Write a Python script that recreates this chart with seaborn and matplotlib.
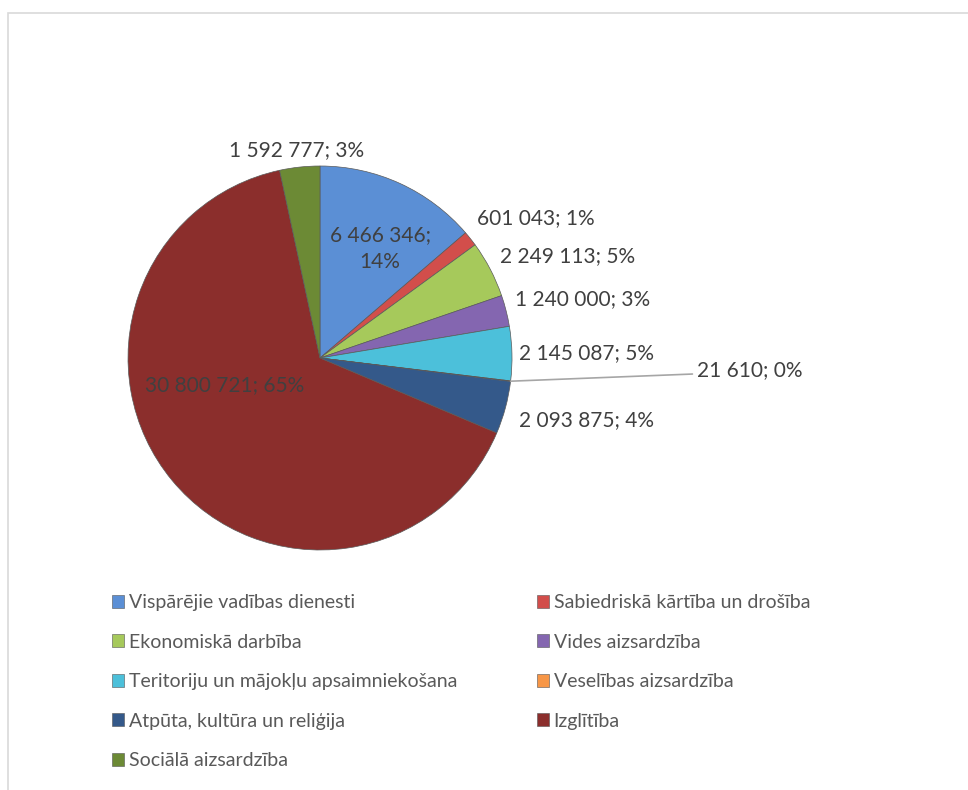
import numpy as np
import seaborn as sns
import matplotlib.pyplot as plt
from matplotlib.patches import Rectangle, Patch

categories = ["Vispārējie vadības dienesti",
              "Sabiedriskā kārtība un drošība",
              "Ekonomiskā darbība",
              "Vides aizsardzība",
              "Teritoriju un mājokļu apsaimniekošana",
              "Veselības aizsardzība",
              "Atpūta, kultūra un reliģija",
              "Izglītība",
              "Sociālā aizsardzība"]
values = [6466346, 601043, 2249113, 1240000, 2145087, 21610, 2093875, 30800721, 1592777]
colors = ["#5B8FD5", "#D24E4B", "#A6C95B", "#8466B0", "#4CC0DA",
          "#F79646", "#34598A", "#8B2E2C", "#6C8A35"]

# label placement: (radius, angle in degrees, horizontal alignment), per slice
label_pos = [(0.65, 61.2, "center"),
             (1.096, 41.7, "left"),
             (1.077, 29.5, "left"),
             (1.061, 16.8, "left"),
             (1.036, 1.4, "left"),
             (1.965, -1.8, "left"),
             (1.085, -17.3, "left"),
             (0.514, 195.8, "center"),
             (1.09, 96.3, "center")]

sns.set_style("white")
plt.rcParams["font.family"] = ["Lato", "DejaVu Sans"]

W, H = 968, 790
fig = plt.figure(figsize=(W / 100, H / 100), dpi=100)
fig.patch.set_facecolor("white")

# outer chart frame
fig.patches.append(Rectangle((8 / W, -0.1), 2, 1 - 13 / H + 0.1, transform=fig.transFigure,
                             fill=False, edgecolor="#D9D9D9", linewidth=1.2))

cx, cy, r = 320, 358, 192
ax = fig.add_axes([(cx - r) / W, 1 - (cy + r) / H, 2 * r / W, 2 * r / H])
wedges, _ = ax.pie(values, colors=colors, startangle=90, counterclock=False,
                   wedgeprops=dict(edgecolor="#5a5a5a", linewidth=0.5))
ax.set_xlim(-1, 1)
ax.set_ylim(-1, 1)
ax.set_axis_off()

total = sum(values)
txt_color = "#404040"
for i, (w, v) in enumerate(zip(wedges, values)):
    pct = round(v / total * 100)
    s = f"{v:,}".replace(",", " ")
    label = f"{s};\n{pct}%" if i == 0 else f"{s}; {pct}%"
    rad, ang, ha = label_pos[i]
    tx, ty = rad * np.cos(np.radians(ang)), rad * np.sin(np.radians(ang))
    if categories[i] == "Veselības aizsardzība":
        mid = np.radians((w.theta1 + w.theta2) / 2)
        ax.annotate(label, xy=(np.cos(mid), np.sin(mid)), xytext=(tx, ty),
                    ha=ha, va="center", fontsize=15, color=txt_color,
                    arrowprops=dict(arrowstyle="-", color="#A6A6A6", lw=1.2,
                                    shrinkA=1, shrinkB=0, relpos=(0, 0.3)))
    else:
        ax.text(tx, ty, label, ha=ha, va="center", fontsize=15, color=txt_color,
                linespacing=1.4)

handles = [Patch(facecolor=c, edgecolor="#555555", linewidth=0.4) for c in colors]
leg_kw = dict(frameon=False, fontsize=14, labelcolor="#595959", loc="upper left",
              borderpad=0, borderaxespad=0, handlelength=0.64, handleheight=0.64,
              handletextpad=0.22, labelspacing=1.16)
left_idx = [0, 2, 4, 6, 8]
right_idx = [1, 3, 5, 7]
fig.legend([handles[i] for i in left_idx], [categories[i] for i in left_idx],
           bbox_to_anchor=(112 / W, 1 - 594 / H), **leg_kw)
fig.legend([handles[i] for i in right_idx], [categories[i] for i in right_idx],
           bbox_to_anchor=(537 / W, 1 - 594 / H), **leg_kw)

fig.savefig("out.png", dpi=100)
